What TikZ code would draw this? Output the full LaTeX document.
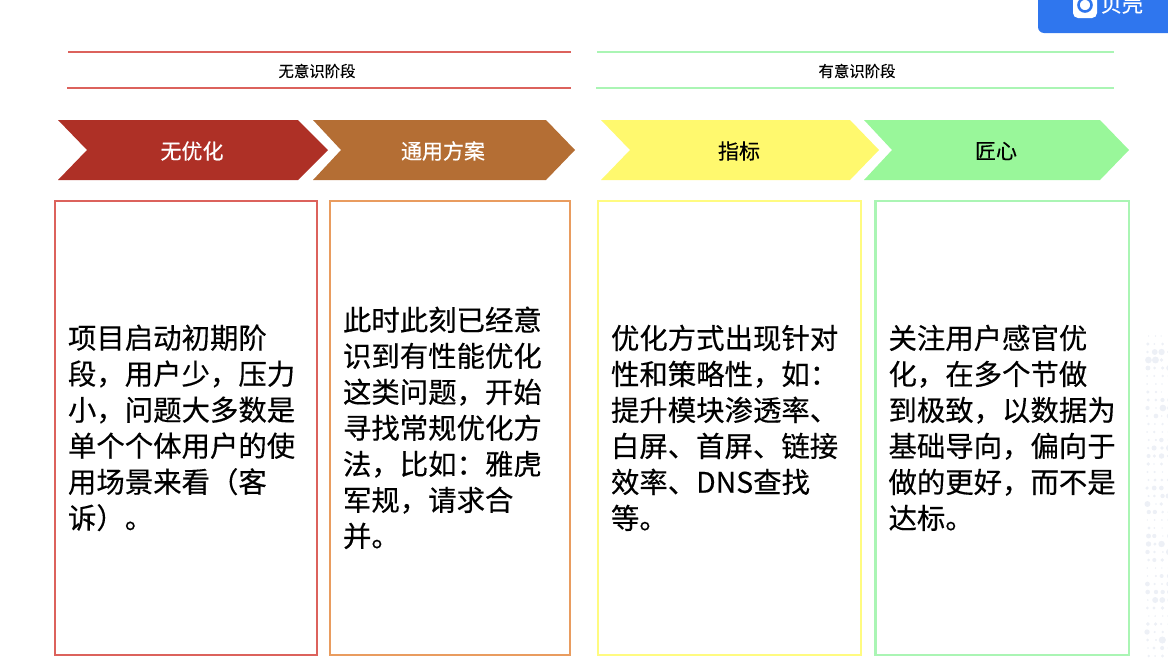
\documentclass[tikz,border=0pt]{standalone}
\usepackage{fontspec}
\setmainfont[FakeBold=0.35]{Noto Sans CJK SC}
\usetikzlibrary{calc}

\definecolor{chevred}{HTML}{AE3026}
\definecolor{chevbrown}{HTML}{B46E34}
\definecolor{chevyellow}{HTML}{FFF96E}
\definecolor{chevgreen}{HTML}{99F79A}
\definecolor{edgered}{HTML}{DC625C}
\definecolor{edgeorange}{HTML}{E99C5F}
\definecolor{edgeyellow}{HTML}{FFFB80}
\definecolor{edgegreen}{HTML}{AAF5B4}
\definecolor{badgeblue}{HTML}{2F76EE}
\definecolor{speckle}{HTML}{EDF0F6}

\tikzset{
  stagerule/.style={line width=2.6pt},
  stagelabel/.style={inner sep=0pt,font=\fontsize{15.4}{18}\selectfont},
  chevlabel/.style={inner sep=0pt,font=\fontsize{21}{24}\selectfont},
  bodybox/.style={draw,line width=2.4pt,anchor=north west,minimum height=453.7pt,outer sep=0pt,inner xsep=13pt,inner ysep=0pt,
    align=left,font=\fontsize{28.4}{36}\selectfont},
}

\begin{document}
\begin{tikzpicture}[x=1pt,y=-1pt]
\useasboundingbox (0,0) rectangle (1168,665);

% ---------- Badge, top right ----------
\fill[badgeblue,rounded corners=6] (1038,-12) -- (1038,33) -- (1180,33) -- (1180,-12) -- cycle;
\fill[white,rounded corners=5] (1073,-8) rectangle (1097,18);
\draw[badgeblue,line width=2.6pt] (1085,5) circle (6.5);
\node[chevlabel,white] (badge) at (1122,4) {贝壳};

% ---------- Speckle on the right edge ----------
\pgfmathsetseed{41}
\foreach \row in {0,...,40}{
  \foreach \col in {0,...,3}{
    \pgfmathsetmacro{\rad}{0.8+2.8*abs(sin(\row*31))*rnd}
    \fill[speckle] ({1147+\col*7+2*rnd},{336+\row*8}) circle (\rad);
  }
}

% ---------- Stage headings ----------
\draw[stagerule,edgered] (68,52) -- (571,52);
\draw[stagerule,edgered] (67,88) -- (571,88);
\node[stagelabel] (stageA) at (317,71) {无意识阶段};

\draw[stagerule,edgegreen] (597,52) -- (1114,52);
\draw[stagerule,edgegreen] (596,88) -- (1114,88);
\node[stagelabel] (stageB) at (857,71) {有意识阶段};

% ---------- Chevrons ----------
\fill[chevred] (58,120) -- (298,120) -- (328,150) -- (298,180) -- (58,180) -- (87,150) -- cycle;
\node[chevlabel,white] (chevA) at (192,151) {无优化};

\fill[chevbrown] (313,120) -- (546,120) -- (575,150) -- (546,180) -- (313,180) -- (341,150) -- cycle;
\node[chevlabel,white] (chevB) at (443,151) {通用方案};

\fill[chevyellow] (601,120) -- (850,120) -- (879,150) -- (850,180) -- (601,180) -- (630,150) -- cycle;
\node[chevlabel] (chevC) at (739,151) {指标};

\fill[chevgreen] (864,120) -- (1100,120) -- (1129,150) -- (1100,180) -- (864,180) -- (892,150) -- cycle;
\node[chevlabel] (chevD) at (996,151) {匠心};

% ---------- Text boxes ----------
\node[bodybox,edgered,text=black,text width=236pt] (boxA) at (55,201)
  {项目启动初期阶\\段，用户少，压力\\小，问题大多数是\\单个个体用户的使\\用场景来看（客\\诉）。};
\node[bodybox,edgeorange,text=black,text width=214pt] (boxB) at (330,201)
  {此时此刻已经意\\识到有性能优化\\这类问题，开始\\寻找常规优化方\\法，比如：雅虎\\军规，请求合\\并。};
\node[bodybox,edgeyellow,text=black,text width=237pt] (boxC) at (598,201)
  {优化方式出现针对\\性和策略性，如：\\提升模块渗透率、\\白屏、首屏、链接\\效率、DNS查找\\等。};
\node[bodybox,edgegreen,text=black,text width=227.5pt] (boxD) at (875.5,201)
  {关注用户感官优\\化，在多个节做\\到极致，以数据为\\基础导向，偏向于\\做的更好，而不是\\达标。};

\end{tikzpicture}
\end{document}
